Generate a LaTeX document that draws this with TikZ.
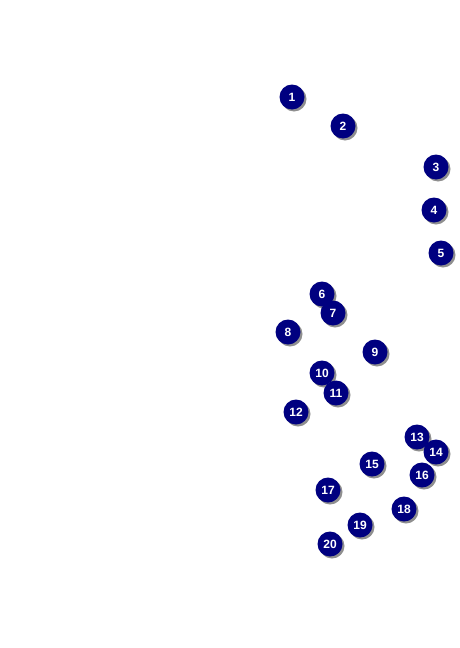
\documentclass[tikz,border=0pt]{standalone}
\usepackage{fontspec}
\setmainfont{Liberation Sans}
\usetikzlibrary{shadows}
\definecolor{navy}{RGB}{0,0,128}
\tikzset{num/.style={circle,fill=navy,minimum size=25pt,inner sep=0pt,text=white,
  font=\fontsize{12}{14}\selectfont\bfseries,
  drop shadow={shadow xshift=2pt,shadow yshift=-2pt,fill=black!55,opacity=0.8}}}
\begin{document}
\begin{tikzpicture}[x=1pt,y=-1pt]
\useasboundingbox[fill=white] (0,0) rectangle (459,648);
\node[num] (n1) at (292,97) {1};
\node[num] (n2) at (343,126) {2};
\node[num] (n3) at (436,167) {3};
\node[num] (n4) at (434,210) {4};
\node[num] (n5) at (441,253) {5};
\node[num] (n6) at (322,294) {6};
\node[num] (n7) at (333,313) {7};
\node[num] (n8) at (288,332) {8};
\node[num] (n9) at (375,352) {9};
\node[num] (n10) at (322,373) {10};
\node[num] (n11) at (336,393) {11};
\node[num] (n12) at (296,412) {12};
\node[num] (n13) at (417,437) {13};
\node[num] (n14) at (436,452) {14};
\node[num] (n15) at (372,464) {15};
\node[num] (n16) at (422,475) {16};
\node[num] (n17) at (328,490) {17};
\node[num] (n18) at (404,509) {18};
\node[num] (n19) at (360,525) {19};
\node[num] (n20) at (330,544) {20};
\end{tikzpicture}
\end{document}
